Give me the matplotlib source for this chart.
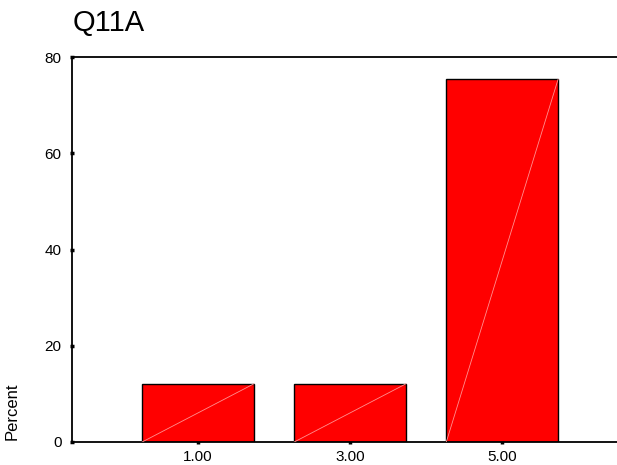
import numpy as np
import matplotlib.pyplot as plt

plt.rcParams['font.family'] = ['Liberation Sans', 'DejaVu Sans']

# data
categories = [1.0, 3.0, 5.0]
cat_labels = ['1.00', '3.00', '5.00']
percent = [12.1, 12.1, 75.4]
yticks = [0, 20, 40, 60, 80]

bar_w = 1.47

fig = plt.figure(figsize=(6.17, 4.65), dpi=100)
ax = fig.add_axes([0.1167, 0.0495, 0.8833, 0.8275])

bars = ax.bar(categories, percent, width=bar_w, color='#ff0000',
              edgecolor='black', linewidth=1.0, zorder=2)

# thin light diagonal inside each bar (SPSS rendering artefact)
for b in bars:
    x0 = b.get_x()
    x1 = x0 + b.get_width()
    h = b.get_height()
    ax.plot([x0, x1], [0, h], color='#ff9090', lw=0.6, zorder=3)

ax.set_xlim(-0.658, 6.51)
ax.set_ylim(0, 80)
ax.set_xticks(categories)
ax.set_xticklabels(cat_labels)
ax.set_yticks(yticks)

ax.spines['right'].set_visible(False)
for s in ['left', 'bottom', 'top']:
    ax.spines[s].set_linewidth(1.3)

ax.tick_params(axis='both', direction='inout', length=3, width=2.5,
               labelsize=11)
ax.tick_params(axis='y', pad=6)
ax.tick_params(axis='x', pad=4)

fig.text(0.117, 1 - 23 / 465, 'Q11A', fontsize=21, ha='left', va='center')
fig.text(0.02, 1 - 440 / 465, 'Percent', rotation=90, fontsize=12,
         ha='center', va='bottom')

fig.savefig('out.png', dpi=100)
